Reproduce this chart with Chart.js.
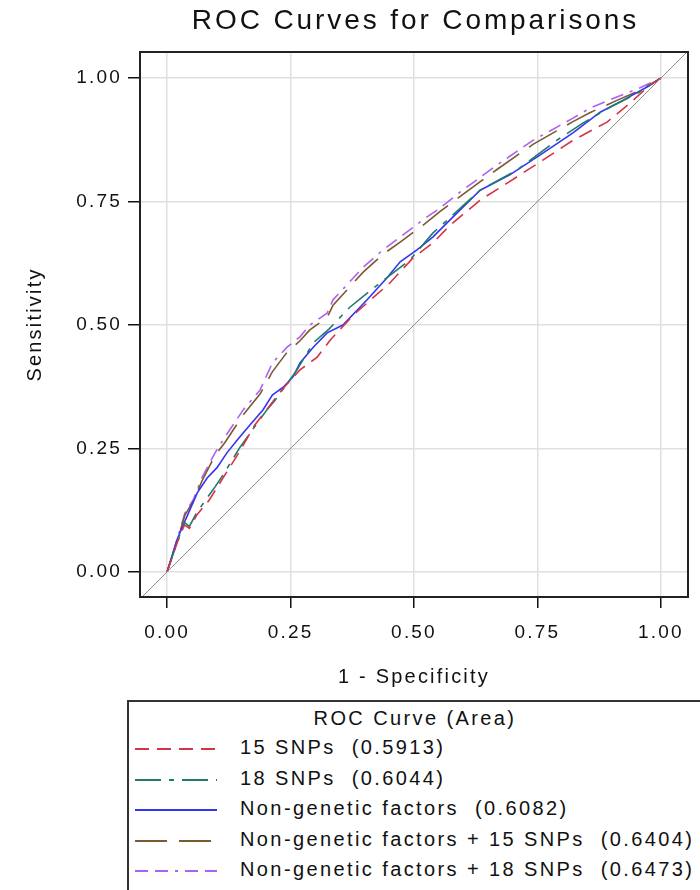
<!DOCTYPE html>
<html>
<head>
<meta charset="utf-8">
<title>ROC Curves for Comparisons</title>
<script src="https://cdn.jsdelivr.net/npm/chart.js@4.4.0/dist/chart.umd.min.js"></script>
<style>
  html, body { margin: 0; padding: 0; background: #fff; width: 700px; height: 890px; overflow: hidden; }
  #wrap { position: relative; width: 700px; height: 890px; overflow: hidden; }
  #roc { position: absolute; left: 0; top: 0; }
  .legend {
    position: absolute; left: 127px; top: 700px; width: 640px; height: 210px;
    border: 2px solid #333; box-sizing: border-box;
    font-family: "Liberation Sans", Arial, sans-serif; font-size: 20px; letter-spacing: 2.4px; color: #111;
  }
  .legend-title { position: absolute; left: 0; width: 572px; top: 5px; text-align: center; white-space: pre; }
  .legend-row { position: absolute; left: 0; height: 30px; white-space: pre; }
  .legend-row svg { position: absolute; left: 4px; top: 6px; }
  .legend-row span { position: absolute; left: 111px; top: 1px; }
</style>
</head>
<body>
<div id="wrap">
  <canvas id="roc" width="700" height="700"></canvas>
  <div class="legend" id="legend"></div>
</div>
<script>
// ===== Data =====
const tickValues = [0, 0.25, 0.5, 0.75, 1];
const tickLabels = ['0.00', '0.25', '0.50', '0.75', '1.00'];

const curveNames = ['15 SNPs', '18 SNPs', 'Non-genetic factors', 'Non-genetic factors + 15 SNPs', 'Non-genetic factors + 18 SNPs'];
const curveAreas = ['0.5913', '0.6044', '0.6082', '0.6404', '0.6473'];

// 15 SNPs
const snp15X = [0, 0.020, 0.035, 0.045, 0.060, 0.085, 0.113, 0.142, 0.178, 0.235, 0.269, 0.304, 0.330, 0.377, 0.451, 0.498, 0.538, 0.573, 0.634, 0.688, 0.761, 0.822, 0.891, 0.937, 0.978, 1];
const snp15Y = [0, 0.058, 0.095, 0.088, 0.115, 0.145, 0.190, 0.236, 0.298, 0.372, 0.409, 0.435, 0.469, 0.520, 0.585, 0.636, 0.666, 0.702, 0.753, 0.787, 0.834, 0.874, 0.911, 0.949, 0.986, 1];

// 18 SNPs
const snp18X = [0, 0.020, 0.035, 0.045, 0.060, 0.081, 0.097, 0.113, 0.132, 0.148, 0.168, 0.202, 0.219, 0.263, 0.296, 0.326, 0.370, 0.431, 0.492, 0.538, 0.579, 0.634, 0.709, 0.789, 0.842, 0.897, 0.957, 1];
const snp18Y = [0, 0.060, 0.100, 0.092, 0.120, 0.150, 0.172, 0.196, 0.227, 0.253, 0.281, 0.328, 0.348, 0.409, 0.464, 0.490, 0.536, 0.585, 0.632, 0.686, 0.723, 0.773, 0.814, 0.874, 0.909, 0.941, 0.972, 1];

// Non-genetic factors
const ngX = [0, 0.020, 0.030, 0.061, 0.081, 0.101, 0.121, 0.142, 0.168, 0.194, 0.213, 0.235, 0.255, 0.269, 0.296, 0.324, 0.356, 0.405, 0.445, 0.472, 0.506, 0.538, 0.573, 0.634, 0.694, 0.755, 0.822, 0.877, 0.923, 0.972, 1];
const ngY = [0, 0.065, 0.089, 0.160, 0.190, 0.211, 0.241, 0.267, 0.298, 0.328, 0.358, 0.374, 0.395, 0.423, 0.455, 0.484, 0.500, 0.551, 0.595, 0.628, 0.652, 0.678, 0.713, 0.773, 0.804, 0.844, 0.889, 0.931, 0.955, 0.982, 1];

// Non-genetic factors + 15 SNPs
const ng15X = [0, 0.020, 0.036, 0.053, 0.071, 0.097, 0.117, 0.154, 0.188, 0.213, 0.243, 0.269, 0.289, 0.324, 0.336, 0.397, 0.437, 0.472, 0.518, 0.553, 0.593, 0.668, 0.741, 0.822, 0.856, 0.911, 0.957, 1];
const ng15Y = [0, 0.062, 0.115, 0.143, 0.185, 0.236, 0.262, 0.318, 0.360, 0.405, 0.445, 0.468, 0.490, 0.515, 0.540, 0.607, 0.643, 0.668, 0.702, 0.730, 0.760, 0.815, 0.866, 0.912, 0.930, 0.955, 0.975, 1];

// Non-genetic factors + 18 SNPs
const ng18X = [0, 0.020, 0.036, 0.053, 0.071, 0.097, 0.117, 0.154, 0.188, 0.213, 0.243, 0.269, 0.289, 0.324, 0.336, 0.397, 0.437, 0.472, 0.518, 0.553, 0.593, 0.668, 0.741, 0.822, 0.856, 0.911, 0.957, 1];
const ng18Y = [0, 0.065, 0.119, 0.146, 0.192, 0.241, 0.273, 0.328, 0.368, 0.423, 0.455, 0.476, 0.500, 0.524, 0.551, 0.617, 0.652, 0.678, 0.713, 0.737, 0.769, 0.824, 0.874, 0.919, 0.939, 0.962, 0.980, 1];

// chance line
const diagX = [-0.06, 1.06];
const diagY = [-0.06, 1.06];

// ===== Styles =====
const curveColors = ['#d53448', '#1f7a6c', '#3535f0', '#7a5a30', '#b060f0'];
const curveDashes = [[14, 8], [26, 8, 5, 8], [], [32, 12], [13, 7, 13, 7, 3, 7]];
const FONT = '"Liberation Sans", Arial, sans-serif';
const chartTitle = 'ROC Curves for Comparisons';

function toPoints(xs, ys) {
    return xs.map((x, i) => ({ x, y: ys[i] }));
}

const curveData = [
    toPoints(snp15X, snp15Y),
    toPoints(snp18X, snp18Y),
    toPoints(ngX, ngY),
    toPoints(ng15X, ng15Y),
    toPoints(ng18X, ng18Y)
];

// ===== Frame, title and letter spacing =====
const framePlugin = {
    id: 'frame',
    beforeDraw(chart) {
        // wide glyph spacing like the original chart font
        chart.ctx.letterSpacing = '2.2px';
    },
    afterDraw(chart) {
        const { ctx, chartArea: a } = chart;
        ctx.save();
        ctx.strokeStyle = '#222';
        ctx.lineWidth = 2;
        ctx.strokeRect(a.left, a.top, a.right - a.left, a.bottom - a.top);

        ctx.letterSpacing = '2.9px';
        ctx.fillStyle = '#111';
        ctx.font = '28px ' + FONT;
        ctx.textAlign = 'center';
        ctx.textBaseline = 'middle';
        ctx.fillText(chartTitle, (a.left + a.right) / 2 + 1.5, 21);
        ctx.restore();
    }
};

// ===== Chart =====
const datasets = [{
    label: 'diag',
    data: toPoints(diagX, diagY),
    showLine: true,
    borderColor: '#8c8c8c',
    borderWidth: 1,
    pointRadius: 0
}].concat(curveData.map((pts, i) => ({
    label: curveNames[i],
    data: pts,
    showLine: true,
    borderColor: curveColors[i],
    borderDash: curveDashes[i],
    borderWidth: 1.6,
    pointRadius: 0,
    tension: 0
})));

function fixedTicks(scale) {
    scale.ticks = tickValues.map(v => ({ value: v }));
}

new Chart(document.getElementById('roc'), {
    type: 'scatter',
    data: { datasets },
    plugins: [framePlugin],
    options: {
        responsive: false,
        animation: false,
        layout: { padding: { left: 0, right: 12, top: 52, bottom: 0 } },
        plugins: {
            legend: { display: false },
            tooltip: { enabled: false },
            title: { display: false }
        },
        scales: {
            x: {
                type: 'linear',
                min: -0.055,
                max: 1.055,
                afterBuildTicks: fixedTicks,
                afterFit(scale) { scale.height = 103; },
                grid: { color: '#e0e0e0', lineWidth: 1.5, tickColor: '#111', tickLength: 11, tickWidth: 1.5 },
                border: { display: false },
                ticks: {
                    color: '#111',
                    font: { family: FONT, size: 19 },
                    padding: 13,
                    maxRotation: 0,
                    callback: (v) => tickLabels[tickValues.indexOf(v)]
                },
                title: {
                    display: true,
                    text: '1 - Specificity',
                    color: '#111',
                    font: { family: FONT, size: 20 },
                    padding: { top: 4, bottom: 11 }
                }
            },
            y: {
                type: 'linear',
                min: -0.051,
                max: 1.053,
                afterBuildTicks: fixedTicks,
                afterFit(scale) { scale.width = 140; },
                grid: { color: '#e0e0e0', lineWidth: 1.5, tickColor: '#111', tickLength: 12, tickWidth: 1.5 },
                border: { display: false },
                ticks: {
                    color: '#111',
                    font: { family: FONT, size: 19 },
                    padding: 6,
                    callback: (v) => tickLabels[tickValues.indexOf(v)]
                },
                title: {
                    display: true,
                    text: 'Sensitivity',
                    color: '#111',
                    font: { family: FONT, size: 20 },
                    padding: { top: 23, bottom: 4 }
                }
            }
        }
    }
});

// ===== Legend (HTML, built from the same arrays) =====
function buildLegend() {
    const box = document.getElementById('legend');
    const title = document.createElement('div');
    title.className = 'legend-title';
    title.textContent = 'ROC Curve (Area)';
    box.appendChild(title);

    curveNames.forEach((name, i) => {
        const row = document.createElement('div');
        row.className = 'legend-row';
        row.style.top = (33 + i * 30.5) + 'px';
        row.style.width = '640px';
        const dash = curveDashes[i].length ? curveDashes[i].join(' ') : 'none';
        row.innerHTML =
            `<svg width="84" height="16"><line x1="2" y1="8" x2="84" y2="8" stroke="${curveColors[i]}" stroke-width="2" stroke-dasharray="${dash}"/></svg>` +
            `<span>${name}  (${curveAreas[i]})</span>`;
        box.appendChild(row);
    });
}
buildLegend();
</script>
</body>
</html>
